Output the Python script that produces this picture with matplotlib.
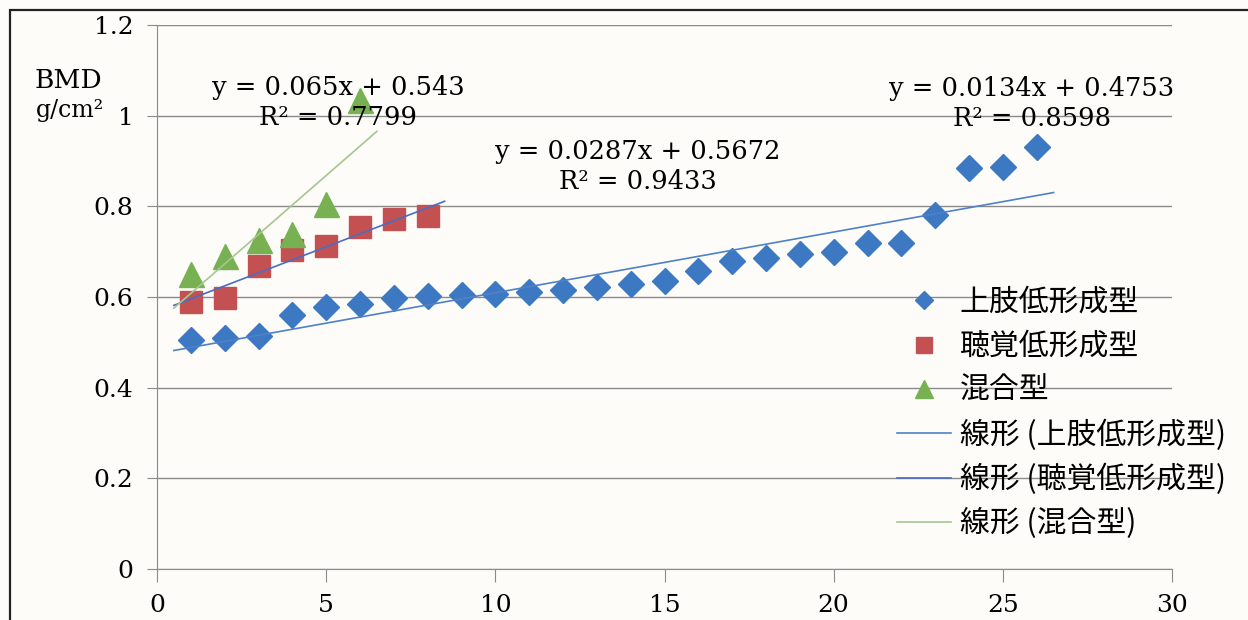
import numpy as np
import matplotlib.pyplot as plt
from matplotlib.patches import Rectangle

# data
x_upper = list(range(1, 27))
y_upper = [0.505, 0.510, 0.515, 0.560, 0.578, 0.585, 0.598, 0.603, 0.605, 0.607,
           0.610, 0.615, 0.622, 0.628, 0.635, 0.658, 0.680, 0.685, 0.695, 0.700,
           0.720, 0.720, 0.780, 0.885, 0.887, 0.930]
x_hear = list(range(1, 9))
y_hear = [0.590, 0.598, 0.668, 0.703, 0.712, 0.755, 0.772, 0.778]
x_mix = list(range(1, 7))
y_mix = [0.650, 0.690, 0.725, 0.740, 0.805, 1.035]

# trendline coefficients (slope, intercept) as printed on the chart
fit_upper = (0.0134, 0.4753)
fit_hear = (0.0287, 0.5672)
fit_mix = (0.065, 0.543)
r2_upper, r2_hear, r2_mix = 0.8598, 0.9433, 0.7799

names = ['上肢低形成型', '聴覚低形成型', '混合型']
xticks = [0, 5, 10, 15, 20, 25, 30]
yticks = [0, 0.2, 0.4, 0.6, 0.8, 1.0, 1.2]
ytick_labels = ['0', '0.2', '0.4', '0.6', '0.8', '1', '1.2']

serif = ['DejaVu Serif']
cjk = ['Noto Sans CJK JP', 'DejaVu Sans']

bg = '#fdfcf9'
fig = plt.figure(figsize=(12.48, 6.2), dpi=100, facecolor=bg)
ax = fig.add_axes([157 / 1248, 1 - 569 / 620, (1172 - 157) / 1248, (569 - 25) / 620])
ax.set_facecolor(bg)

# outer frame of the scanned chart
fig.patches.append(Rectangle((10 / 1248, -0.1), 1.2, 1 - 10 / 620 + 0.1,
                             transform=fig.transFigure, fill=False,
                             edgecolor='#222222', linewidth=1.6))

ax.set_xlim(0, 30)
ax.set_ylim(0, 1.2)
ax.set_xticks(xticks)
ax.set_yticks(yticks)
ax.set_yticklabels(ytick_labels)
ax.grid(axis='y', color='#8a8a8a', linewidth=1.0)
ax.set_axisbelow(True)
for s in ['top', 'right']:
    ax.spines[s].set_visible(False)
ax.spines['left'].set_color('#8a8a8a')
ax.spines['bottom'].set_color('#8a8a8a')
ax.tick_params(axis='x', direction='out', length=9, color='#8a8a8a', pad=9)
ax.tick_params(axis='y', direction='out', length=7, color='#8a8a8a', pad=10)
for lab in ax.get_xticklabels() + ax.get_yticklabels():
    lab.set_fontfamily(serif)
    lab.set_fontsize(18)

# points
ax.plot(x_upper, y_upper, 'D', color='#3d78c2', ms=13, mec='#3d78c2', label=names[0], zorder=4)
ax.plot(x_hear, y_hear, 's', color='#c45151', ms=16, mec='#c45151', label=names[1], zorder=3)
ax.plot(x_mix, y_mix, '^', color='#77b152', ms=18, mec='#77b152', label=names[2], zorder=3)

# trendlines
for xs, fit, col, nm in [(x_upper, fit_upper, '#4f81c8', names[0]),
                         (x_hear, fit_hear, '#4a6cc4', names[1]),
                         (x_mix, fit_mix, '#a6c690', names[2])]:
    xx = np.array([xs[0] - 0.5, xs[-1] + 0.5])
    ax.plot(xx, fit[0] * xx + fit[1], color=col, linewidth=1.2,
            label='線形 (' + nm + ')', zorder=5)

# trendline equations
def eq_text(x, y, fit, r2):
    ax.text(x, y, 'y = {0}x + {1}\nR² = {2}'.format(fit[0], fit[1], r2),
            ha='center', va='center', multialignment='center',
            fontsize=18.5, family=serif, linespacing=1.25, zorder=6)

eq_text(5.35, 1.03, fit_mix, r2_mix)
eq_text(14.22, 0.888, fit_hear, r2_hear)
eq_text(25.86, 1.026, fit_upper, r2_upper)

# axis title in the top left corner
fig.text(68 / 1248, 1 - 80 / 620, 'BMD', ha='center', va='center', fontsize=19, family=serif)
fig.text(70 / 1248, 1 - 111 / 620, 'g/cm²', ha='center', va='center', fontsize=17, family=serif)

leg = ax.legend(loc='upper left', bbox_to_anchor=(882 / 1248, 1 - 272 / 620),
                bbox_transform=fig.transFigure, frameon=False, borderpad=0,
                handlelength=1.8, handletextpad=0.3, labelspacing=0.44,
                markerscale=0.7, prop={'family': cjk, 'size': 21.5})

fig.savefig('out.png', dpi=100, facecolor=bg)
